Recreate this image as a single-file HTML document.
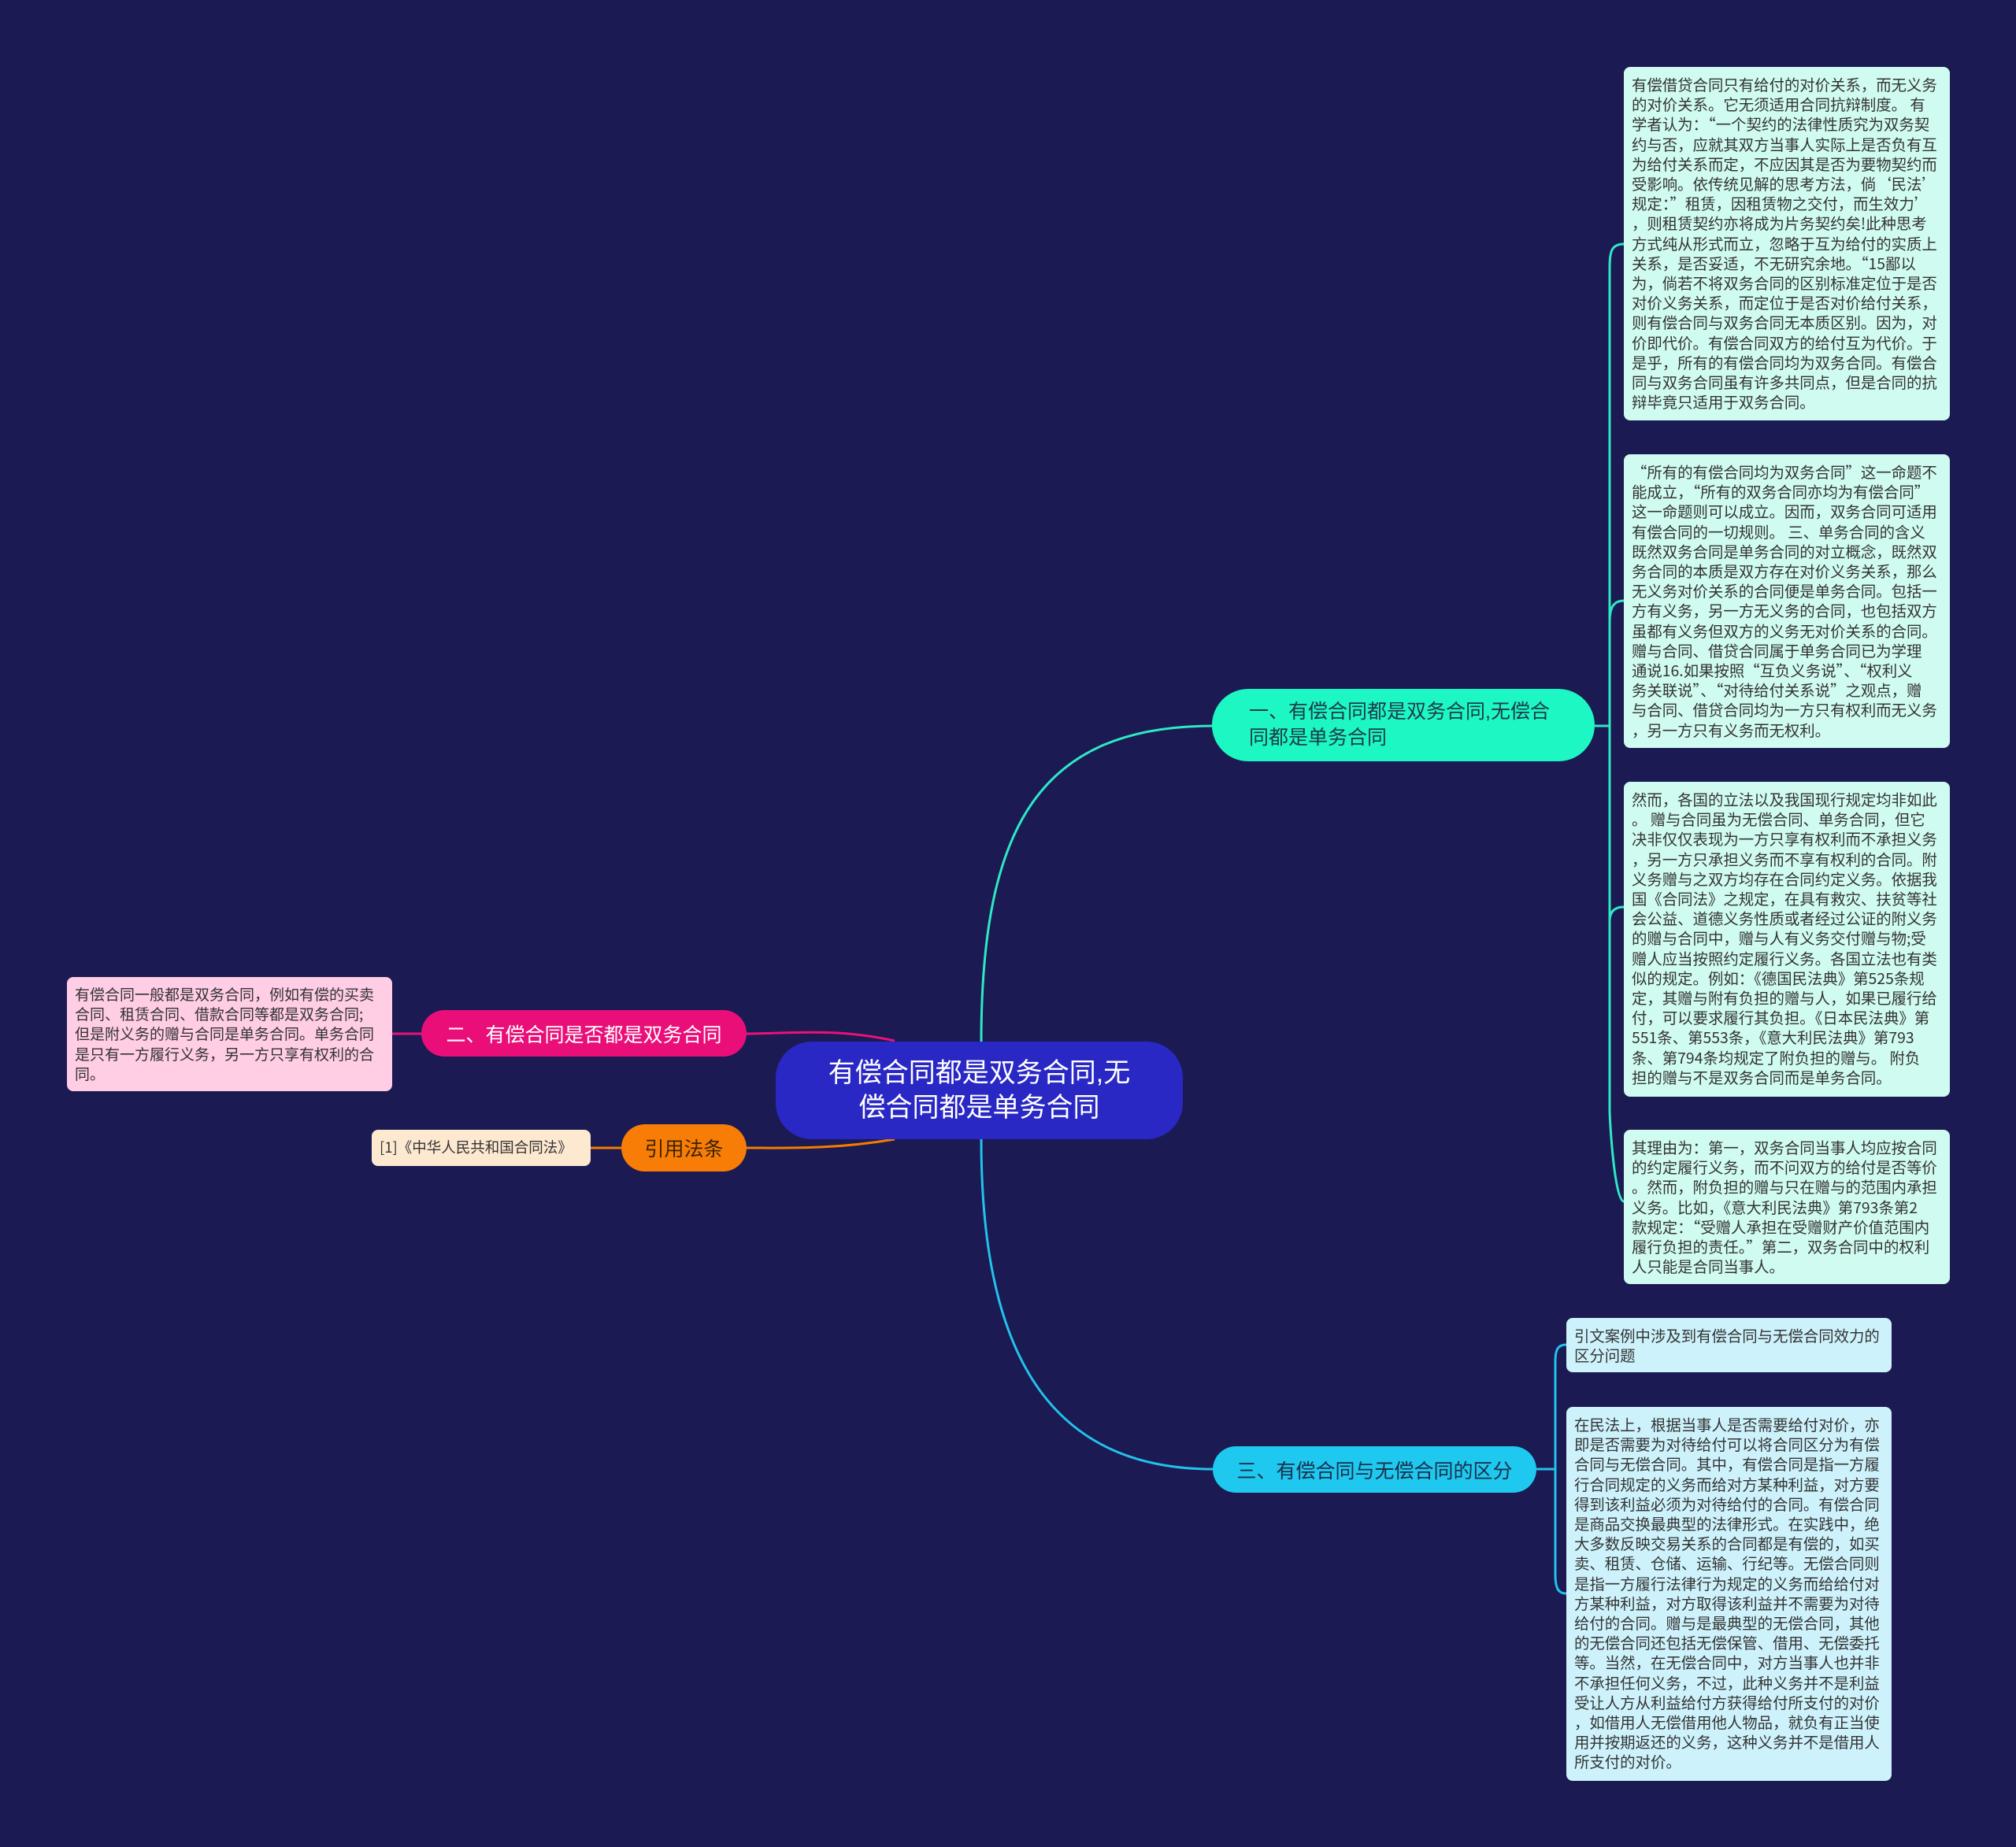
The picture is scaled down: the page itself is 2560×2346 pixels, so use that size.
<!DOCTYPE html>
<html><head><meta charset="utf-8"><style>
html,body{margin:0;padding:0}
body{width:2560px;height:2346px;background:#1b1a52;position:relative;overflow:hidden;font-family:"Liberation Sans","Noto Sans CJK SC",sans-serif}
.n{position:absolute;box-sizing:border-box}
.leaf{border-radius:8px;color:#333;font-family:"Noto Sans CJK SC",sans-serif;font-size:19.4px;line-height:25.2px;padding:9px 0 0 10px;white-space:nowrap;overflow:hidden}
.g{background:#d0fbf0}
.c{background:#cdf2fb}
.br{border-radius:46px;display:flex;align-items:center;white-space:nowrap}
</style></head><body>
<svg class="n" style="left:0;top:0" width="2560" height="2346">
<g fill="none" stroke-width="3">
<path d="M1246 1324 C1246 1050 1320 922 1540 922" stroke="#2ee8c6"/>
<path d="M1246 1447 C1246 1700 1320 1866 1540 1866" stroke="#22c2ec"/>
<path d="M1136 1322 C1060 1305 1000 1313 947 1313" stroke="#e8127a"/>
<path d="M1136 1447 C1060 1460 1000 1458 947 1458" stroke="#f57c00"/>
<path d="M498 1313 L535 1313" stroke="#e8127a"/>
<path d="M750 1458 L789 1458" stroke="#f57c00"/>
<path d="M2025 922 L2044 922" stroke="#2ee8c6"/>
<path d="M2062 310 C2046 310 2044 320 2044 340 L2044 1410 C2044 1422 2050 1526 2062 1526" stroke="#2ee8c6"/>
<path d="M2044 790 C2044 770 2050 763 2062 763" stroke="#2ee8c6"/>
<path d="M2044 1170 C2044 1158 2050 1152 2062 1152" stroke="#2ee8c6"/>
<path d="M1951 1866 L1975 1866" stroke="#22c2ec"/>
<path d="M1989 1708 C1977 1708 1975 1716 1975 1730 L1975 2000 C1975 2018 1979 2024 1989 2024" stroke="#22c2ec"/>
</g></svg>

<div class="n br" style="left:985px;top:1323px;width:517px;height:124px;background:#2a28c4;color:#fff;font-size:34px;line-height:44px;justify-content:center;text-align:center">有偿合同都是双务合同,无<br>偿合同都是单务合同</div>

<div class="n br" style="left:1539px;top:875px;width:486px;height:92px;background:#1cf7c4;color:#1d3a4a;font-size:25px;line-height:33px;padding-left:47px">一、有偿合同都是双务合同,无偿合<br>同都是单务合同</div>

<div class="n br" style="left:535px;top:1283px;width:413px;height:59px;background:#ea0f78;color:#fff;font-size:25px;justify-content:center">二、有偿合同是否都是双务合同</div>

<div class="n br" style="left:789px;top:1428px;width:159px;height:60px;background:#f77d06;color:#3a2200;font-size:25px;justify-content:center">引用法条</div>

<div class="n br" style="left:1540px;top:1837px;width:411px;height:59px;background:#1ec8ef;color:#1a2f4a;font-size:25px;justify-content:center">三、有偿合同与无偿合同的区分</div>

<div class="n leaf" style="left:85px;top:1241px;width:413px;height:145px;background:#ffcde4;font-size:19px">有偿合同一般都是双务合同，例如有偿的买卖<br>合同、租赁合同、借款合同等都是双务合同;<br>但是附义务的赠与合同是单务合同。单务合同<br>是只有一方履行义务，另一方只享有权利的合<br>同。</div>

<div class="n leaf" style="left:472px;top:1435px;width:278px;height:46px;background:#fde8d0;font-size:18.5px;line-height:26px;padding-top:9px">[1]《中华人民共和国合同法》</div>

<div class="n leaf g" style="left:2062px;top:85px;width:414px;height:449px">有偿借贷合同只有给付的对价关系，而无义务<br>的对价关系。它无须适用合同抗辩制度。 有<br>学者认为：“一个契约的法律性质究为双务契<br>约与否，应就其双方当事人实际上是否负有互<br>为给付关系而定，不应因其是否为要物契约而<br>受影响。依传统见解的思考方法，倘‘民法’<br>规定：”租赁，因租赁物之交付，而生效力’<br>，则租赁契约亦将成为片务契约矣!此种思考<br>方式纯从形式而立，忽略于互为给付的实质上<br>关系，是否妥适，不无研究余地。“15鄙以<br>为，倘若不将双务合同的区别标准定位于是否<br>对价义务关系，而定位于是否对价给付关系，<br>则有偿合同与双务合同无本质区别。因为，对<br>价即代价。有偿合同双方的给付互为代价。于<br>是乎，所有的有偿合同均为双务合同。有偿合<br>同与双务合同虽有许多共同点，但是合同的抗<br>辩毕竟只适用于双务合同。</div>

<div class="n leaf g" style="left:2062px;top:577px;width:414px;height:373px">“所有的有偿合同均为双务合同”这一命题不<br>能成立，“所有的双务合同亦均为有偿合同”<br>这一命题则可以成立。因而，双务合同可适用<br>有偿合同的一切规则。 三、单务合同的含义<br>既然双务合同是单务合同的对立概念，既然双<br>务合同的本质是双方存在对价义务关系，那么<br>无义务对价关系的合同便是单务合同。包括一<br>方有义务，另一方无义务的合同，也包括双方<br>虽都有义务但双方的义务无对价关系的合同。<br> 赠与合同、借贷合同属于单务合同已为学理<br>通说16.如果按照“互负义务说”、“权利义<br>务关联说”、“对待给付关系说”之观点，赠<br>与合同、借贷合同均为一方只有权利而无义务<br>，另一方只有义务而无权利。</div>

<div class="n leaf g" style="left:2062px;top:993px;width:414px;height:400px">然而，各国的立法以及我国现行规定均非如此<br>。 赠与合同虽为无偿合同、单务合同，但它<br>决非仅仅表现为一方只享有权利而不承担义务<br>，另一方只承担义务而不享有权利的合同。附<br>义务赠与之双方均存在合同约定义务。依据我<br>国《合同法》之规定，在具有救灾、扶贫等社<br>会公益、道德义务性质或者经过公证的附义务<br>的赠与合同中，赠与人有义务交付赠与物;受<br>赠人应当按照约定履行义务。各国立法也有类<br>似的规定。例如：《德国民法典》第525条规<br>定，其赠与附有负担的赠与人，如果已履行给<br>付，可以要求履行其负担。《日本民法典》第<br>551条、第553条，《意大利民法典》第793<br>条、第794条均规定了附负担的赠与。 附负<br>担的赠与不是双务合同而是单务合同。</div>

<div class="n leaf g" style="left:2062px;top:1435px;width:414px;height:196px">其理由为：第一，双务合同当事人均应按合同<br>的约定履行义务，而不问双方的给付是否等价<br>。然而，附负担的赠与只在赠与的范围内承担<br>义务。比如，《意大利民法典》第793条第2<br>款规定：“受赠人承担在受赠财产价值范围内<br>履行负担的责任。”第二，双务合同中的权利<br>人只能是合同当事人。</div>

<div class="n leaf c" style="left:1989px;top:1674px;width:413px;height:69px">引文案例中涉及到有偿合同与无偿合同效力的<br>区分问题</div>

<div class="n leaf c" style="left:1989px;top:1787px;width:413px;height:475px">在民法上，根据当事人是否需要给付对价，亦<br>即是否需要为对待给付可以将合同区分为有偿<br>合同与无偿合同。其中，有偿合同是指一方履<br>行合同规定的义务而给对方某种利益，对方要<br>得到该利益必须为对待给付的合同。有偿合同<br>是商品交换最典型的法律形式。在实践中，绝<br>大多数反映交易关系的合同都是有偿的，如买<br>卖、租赁、仓储、运输、行纪等。无偿合同则<br>是指一方履行法律行为规定的义务而给给付对<br>方某种利益，对方取得该利益并不需要为对待<br>给付的合同。赠与是最典型的无偿合同，其他<br>的无偿合同还包括无偿保管、借用、无偿委托<br>等。当然，在无偿合同中，对方当事人也并非<br>不承担任何义务，不过，此种义务并不是利益<br>受让人方从利益给付方获得给付所支付的对价<br>，如借用人无偿借用他人物品，就负有正当使<br>用并按期返还的义务，这种义务并不是借用人<br>所支付的对价。</div>
</body></html>
